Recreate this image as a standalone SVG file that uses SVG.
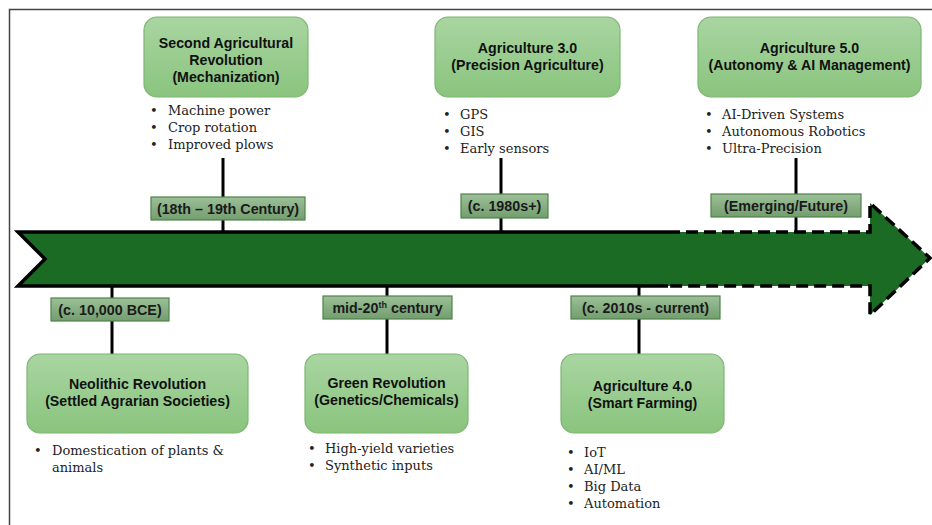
<svg xmlns="http://www.w3.org/2000/svg" width="932" height="525" viewBox="0 0 932 525">
  <defs>
    <linearGradient id="nodeFill" x1="0" y1="0" x2="0" y2="1">
      <stop offset="0" stop-color="#a9d5a1"/>
      <stop offset="1" stop-color="#8ac47e"/>
    </linearGradient>
    <linearGradient id="dateFill" x1="0" y1="0" x2="0" y2="1">
      <stop offset="0" stop-color="#9cc098"/>
      <stop offset="1" stop-color="#739d6f"/>
    </linearGradient>
  </defs>
  <style>
    .node { fill: url(#nodeFill); stroke: #7db672; stroke-width: 1.2; }
    .date { fill: url(#dateFill); stroke: #4f8249; stroke-width: 1.2; }
    .title { font-family: "Liberation Sans", Arial, sans-serif; font-weight: bold; font-size: 14.2px; fill: #111; text-anchor: middle; }
    .dtext { font-family: "Liberation Sans", Arial, sans-serif; font-weight: bold; font-size: 14.3px; fill: #1a1a1a; text-anchor: middle; }
    .item { font-family: "DejaVu Serif", "Liberation Serif", serif; font-size: 13px; fill: #222; }
    .stem { stroke: #000; stroke-width: 3; fill: none; }
  </style>

  <!-- outer frame -->
  <path d="M9.5,525 V9.5 H932" fill="none" stroke="#444" stroke-width="1.5"/>

  <!-- timeline arrow -->
  <g id="timeline">
    <path d="M18,232 H870 V203 L930,258 L870,315 V286 H18 L45,259 Z" fill="#1b6b25"/>
    <path d="M668,232 H18 L45,259 L18,286 H668" fill="none" stroke="#000" stroke-width="3.5" stroke-linejoin="miter"/>
    <path d="M668,232 H870 V203 L930,258 L870,315 V286 H668" fill="none" stroke="#000" stroke-width="3.5" stroke-dasharray="12,6" stroke-linejoin="miter"/>
  </g>

  <!-- stems joining nodes and dates to the timeline -->
  <g id="connectors">
    <line class="stem" x1="223" y1="158" x2="223" y2="232"/>
    <line class="stem" x1="501" y1="158" x2="501" y2="232"/>
    <line class="stem" x1="796" y1="158" x2="796" y2="232"/>
    <line class="stem" x1="112" y1="286" x2="112" y2="354"/>
    <line class="stem" x1="387" y1="286" x2="387" y2="354"/>
    <line class="stem" x1="639" y1="286" x2="639" y2="354"/>
  </g>

  <!-- date tags -->
  <g id="date-18th">
    <rect class="date" x="151" y="197" width="154" height="23"/>
    <text class="dtext" x="228" y="213.5">(18th – 19th Century)</text>
  </g>
  <g id="date-1980s">
    <rect class="date" x="461" y="194" width="87" height="24"/>
    <text class="dtext" x="504.5" y="211">(c. 1980s+)</text>
  </g>
  <g id="date-future">
    <rect class="date" x="711" y="194" width="150" height="23"/>
    <text class="dtext" x="786" y="210.5">(Emerging/Future)</text>
  </g>
  <g id="date-bce">
    <rect class="date" x="51" y="298" width="118" height="23"/>
    <text class="dtext" x="110" y="314.5">(c. 10,000 BCE)</text>
  </g>
  <g id="date-mid20">
    <rect class="date" x="323" y="296" width="129" height="23"/>
    <text class="dtext" x="387.5" y="312.5">mid-20<tspan font-size="9" dy="-5">th</tspan><tspan dy="5"> century</tspan></text>
  </g>
  <g id="date-2010s">
    <rect class="date" x="571" y="296" width="149" height="23"/>
    <text class="dtext" x="645.5" y="312.5">(c. 2010s - current)</text>
  </g>

  <!-- upper nodes -->
  <g id="second-revolution">
    <rect class="node" x="144" y="17" width="164" height="80" rx="13"/>
    <text class="title" x="226" y="48">Second Agricultural</text>
    <text class="title" x="226" y="65">Revolution</text>
    <text class="title" x="226" y="82">(Mechanization)</text>
    <text class="item" x="150" y="115">•</text>
    <text class="item" x="168" y="115">Machine power</text>
    <text class="item" x="150" y="132">•</text>
    <text class="item" x="168" y="132">Crop rotation</text>
    <text class="item" x="150" y="149">•</text>
    <text class="item" x="168" y="149">Improved plows</text>
  </g>

  <g id="agriculture-3">
    <rect class="node" x="435" y="17" width="185" height="80" rx="13"/>
    <text class="title" x="527.5" y="53">Agriculture 3.0</text>
    <text class="title" x="527.5" y="70">(Precision Agriculture)</text>
    <text class="item" x="443" y="119">•</text>
    <text class="item" x="460" y="119">GPS</text>
    <text class="item" x="443" y="136">•</text>
    <text class="item" x="460" y="136">GIS</text>
    <text class="item" x="443" y="153">•</text>
    <text class="item" x="460" y="153">Early sensors</text>
  </g>

  <g id="agriculture-5">
    <rect class="node" x="698" y="17" width="223" height="80" rx="13"/>
    <text class="title" x="809.5" y="53">Agriculture 5.0</text>
    <text class="title" x="809.5" y="70">(Autonomy &amp; AI Management)</text>
    <text class="item" x="705" y="119">•</text>
    <text class="item" x="722" y="119">AI-Driven Systems</text>
    <text class="item" x="705" y="136">•</text>
    <text class="item" x="722" y="136">Autonomous Robotics</text>
    <text class="item" x="705" y="153">•</text>
    <text class="item" x="722" y="153">Ultra-Precision</text>
  </g>

  <!-- lower nodes -->
  <g id="neolithic">
    <rect class="node" x="27" y="354" width="221" height="79" rx="13"/>
    <text class="title" x="137.5" y="389">Neolithic Revolution</text>
    <text class="title" x="137.5" y="406">(Settled Agrarian Societies)</text>
    <text class="item" x="34" y="455">•</text>
    <text class="item" x="52" y="455">Domestication of plants &amp;</text>
    <text class="item" x="52" y="472">animals</text>
  </g>

  <g id="green-revolution">
    <rect class="node" x="305" y="354" width="163" height="79" rx="13"/>
    <text class="title" x="386.5" y="388">Green Revolution</text>
    <text class="title" x="386.5" y="405">(Genetics/Chemicals)</text>
    <text class="item" x="308" y="453">•</text>
    <text class="item" x="325" y="453">High-yield varieties</text>
    <text class="item" x="308" y="470">•</text>
    <text class="item" x="325" y="470">Synthetic inputs</text>
  </g>

  <g id="agriculture-4">
    <rect class="node" x="561" y="354" width="163" height="79" rx="13"/>
    <text class="title" x="642.5" y="391">Agriculture 4.0</text>
    <text class="title" x="642.5" y="408">(Smart Farming)</text>
    <text class="item" x="567" y="457">•</text>
    <text class="item" x="584" y="457">IoT</text>
    <text class="item" x="567" y="474">•</text>
    <text class="item" x="584" y="474">AI/ML</text>
    <text class="item" x="567" y="491">•</text>
    <text class="item" x="584" y="491">Big Data</text>
    <text class="item" x="567" y="508">•</text>
    <text class="item" x="584" y="508">Automation</text>
  </g>
</svg>
